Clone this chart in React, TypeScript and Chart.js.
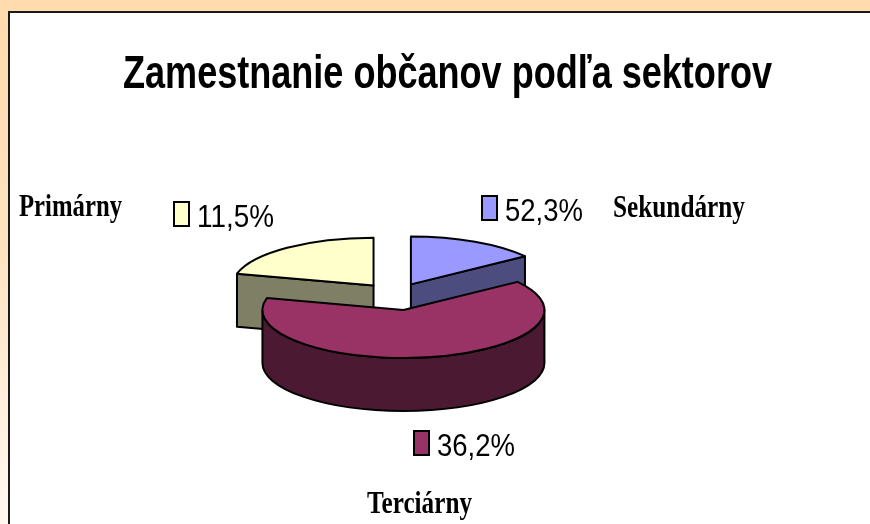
import React, { useEffect, useRef } from 'react';
import { Chart, registerables } from 'chart.js';

Chart.register(...registerables);

// ---- data ----
const TITLE = 'Zamestnanie občanov podľa sektorov';
const categories = ['Sekundárny', 'Terciárny', 'Primárny'];
// slice sizes as drawn in the picture (share of the circle)
const sliceValues = [15, 64, 21];
// percentage texts printed next to the slices
const percentLabels = ['52,3%', '36,2%', '11,5%'];

// ---- styles ----
const topColors = ['#9999FF', '#993366', '#FFFFCC'];
const sideColors = ['#4C4C7F', '#4C1933', '#7F7F66'];
const explode = [35, 45, 35];
const TILT = 0.34;
const DEPTH = 53;

// label layout: [textX, textWidth, baseline]
const catLayout = [
  [613, 132, 217],
  [367, 105, 513],
  [19, 103, 216],
];
const pctLayout = [
  [505, 78, 221],
  [437, 78, 456],
  [197, 77, 227],
];

function fitText(ctx: CanvasRenderingContext2D, text: string, x: number, y: number, font: string, w: number) {
  ctx.save();
  ctx.font = font;
  ctx.textAlign = 'left';
  ctx.textBaseline = 'alphabetic';
  const m = ctx.measureText(text).width || 1;
  ctx.translate(x, y);
  ctx.scale(w / m, 1);
  ctx.fillStyle = '#000';
  ctx.fillText(text, 0, 0);
  ctx.restore();
}

const pie3d = {
  id: 'pie3d',
  beforeDatasetDraw(chart: any, args: any) {
    const ctx: CanvasRenderingContext2D = chart.ctx;
    const meta = args.meta;
    const slices = meta.data.map((el: any, i: number) => {
      const p = el.getProps(['x', 'y', 'startAngle', 'endAngle', 'outerRadius'], true);
      const off = (el.options && el.options.offset) || 0;
      const mid = (p.startAngle + p.endAngle) / 2;
      return {
        i,
        s: p.startAngle,
        e: p.endAngle,
        r: p.outerRadius,
        cx: p.x + Math.cos(mid) * off,
        cy: p.y + Math.sin(mid) * off * TILT,
      };
    });
    slices.sort((a: any, b: any) => a.cy - b.cy);
    ctx.save();
    ctx.lineWidth = 2;
    ctx.lineJoin = 'round';
    ctx.strokeStyle = '#000';
    for (const sl of slices) {
      const rx = sl.r;
      const ry = sl.r * TILT;
      const side = sideColors[sl.i];
      const faces: number[] = [];
      if (Math.cos(sl.s) < -1e-6) faces.push(sl.s);
      if (Math.cos(sl.e) > 1e-6) faces.push(sl.e);
      for (const a of faces) {
        const ex = sl.cx + rx * Math.cos(a);
        const ey = sl.cy + ry * Math.sin(a);
        ctx.beginPath();
        ctx.moveTo(sl.cx, sl.cy);
        ctx.lineTo(ex, ey);
        ctx.lineTo(ex, ey + DEPTH);
        ctx.lineTo(sl.cx, sl.cy + DEPTH);
        ctx.closePath();
        ctx.fillStyle = side;
        ctx.fill();
        ctx.stroke();
      }
      for (let k = -1; k <= 1; k++) {
        const a0 = Math.max(sl.s, 2 * Math.PI * k);
        const a1 = Math.min(sl.e, 2 * Math.PI * k + Math.PI);
        if (a1 - a0 > 1e-4) {
          ctx.beginPath();
          ctx.ellipse(sl.cx, sl.cy, rx, ry, 0, a0, a1);
          ctx.ellipse(sl.cx, sl.cy + DEPTH, rx, ry, 0, a1, a0, true);
          ctx.closePath();
          ctx.fillStyle = side;
          ctx.fill();
          ctx.stroke();
        }
      }
      ctx.beginPath();
      ctx.moveTo(sl.cx, sl.cy);
      ctx.ellipse(sl.cx, sl.cy, rx, ry, 0, sl.s, sl.e);
      ctx.closePath();
      ctx.fillStyle = topColors[sl.i];
      ctx.fill();
      ctx.stroke();
    }
    ctx.restore();
    return false;
  },
  afterDraw(chart: any) {
    const ctx: CanvasRenderingContext2D = chart.ctx;
    fitText(ctx, TITLE, 123, 88, 'bold 46px "Liberation Sans", Arial, sans-serif', 649);
    categories.forEach((c, i) => {
      const [x, w, b] = catLayout[i];
      fitText(ctx, c, x, b, 'bold 31px "Liberation Serif", "Times New Roman", serif', w);
    });
    percentLabels.forEach((t, i) => {
      const [x, w, b] = pctLayout[i];
      ctx.save();
      ctx.fillStyle = topColors[i];
      ctx.strokeStyle = '#000';
      ctx.lineWidth = 2;
      ctx.fillRect(x - 23, b - 25, 15, 24);
      ctx.strokeRect(x - 23, b - 25, 15, 24);
      ctx.restore();
      fitText(ctx, t, x, b, '32px "Liberation Sans", Arial, sans-serif', w);
    });
  },
};

export default function App() {
  const ref = useRef<HTMLCanvasElement | null>(null);
  useEffect(() => {
    if (!ref.current) return;
    const chart = new Chart(ref.current, {
      type: 'pie',
      data: {
        labels: categories,
        datasets: [
          {
            data: sliceValues,
            backgroundColor: topColors,
            borderColor: '#000',
            borderWidth: 2,
            offset: explode,
            radius: 141,
          } as any,
        ],
      },
      options: {
        responsive: false,
        animation: false,
        layout: { padding: { left: 0, right: 80, top: 66, bottom: 0 } },
        plugins: {
          legend: { display: false },
          tooltip: { enabled: false },
          title: { display: false },
        },
      },
      plugins: [pie3d as any],
    });
    return () => chart.destroy();
  }, []);
  return (
    <div
      style={{
        position: 'fixed',
        left: 0,
        top: 0,
        width: 870,
        height: 524,
        overflow: 'hidden',
        background: 'linear-gradient(to bottom, #FFDBAD 0%, #FFE2BE 45%, #FFF9F2 100%)',
      }}
    >
      <div
        style={{
          position: 'absolute',
          left: 8,
          top: 11,
          width: 900,
          height: 560,
          background: '#fff',
          border: '2px solid #1a1a1a',
          boxSizing: 'border-box',
        }}
      />
      <canvas
        ref={ref}
        width={870}
        height={524}
        style={{ position: 'absolute', left: 0, top: 0, width: 870, height: 524, display: 'block' }}
      />
    </div>
  );
}
